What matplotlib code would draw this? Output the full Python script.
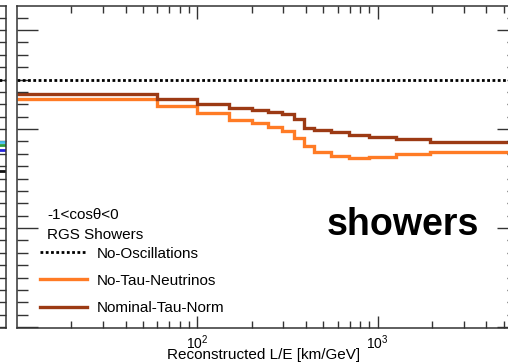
import matplotlib
matplotlib.use('Agg')
import matplotlib.pyplot as plt
from matplotlib.ticker import FixedLocator, NullFormatter, MultipleLocator, FixedFormatter

plt.rcParams['font.family'] = ['Liberation Sans', 'DejaVu Sans']
plt.rcParams['mathtext.default'] = 'regular'

# ---- data ----
bin_edges = [10, 60, 100, 150, 200, 245, 295, 345, 390, 445, 550, 690, 890, 1260, 1960, 6000]
no_tau_neutrinos = [0.961, 0.9465, 0.933, 0.919, 0.912, 0.904, 0.896, 0.882, 0.866,
                    0.8535, 0.8455, 0.8405, 0.8435, 0.8495, 0.854]
nominal_tau_norm = [0.9715, 0.960, 0.951, 0.943, 0.9385, 0.935, 0.930, 0.920, 0.903,
                    0.8985, 0.893, 0.888, 0.883, 0.880, 0.8735]
no_oscillations = 1.0
series_labels = ['No-Oscillations', 'No-Tau-Neutrinos', 'Nominal-Tau-Norm']
header_lines = ['-1<cos\u03b8<0', 'RGS Showers']
x_major_ticks = [100, 1000]
x_major_labels = ['$10^{2}$', '$10^{3}$']
x_minor_ticks = [20, 30, 40, 50, 60, 70, 80, 90, 200, 300, 400, 500, 600, 700, 800, 900,
                 2000, 3000, 4000, 5000]
y_major_ticks = [0.5, 0.7, 0.9, 1.1]
# remnant of neighbouring panel (left edge)
left_panel_levels = [0.8747, 0.8667, 0.8576, 0.815]
left_panel_colors = ['#45BFF0', '#2E9E3E', '#2222DD', '#111111']

ORANGE = '#FF7B25'
DARK = '#9C3A14'
SPINE = '#333333'

fig = plt.figure(figsize=(5.08, 3.63), dpi=100)
W, H = 508, 363
bottom = 1 - 328 / H
height = (328 - 6) / H
ax = fig.add_axes([17 / W, bottom, (518 - 17) / W, height])

ax.set_xscale('log')
ax.set_xlim(10, 6000)
ax.set_ylim(0.498, 1.1485)

ax.axhline(no_oscillations, color='black', lw=2.0, ls=(0, (1, 0.9)),
           label=series_labels[0])
ax.stairs(no_tau_neutrinos, bin_edges, baseline=None, color=ORANGE, lw=2.4,
          label=series_labels[1])
ax.stairs(nominal_tau_norm, bin_edges, baseline=None, color=DARK, lw=2.4,
          label=series_labels[2])

ax.xaxis.set_major_locator(FixedLocator(x_major_ticks))
ax.xaxis.set_major_formatter(FixedFormatter(x_major_labels))
ax.xaxis.set_minor_locator(FixedLocator(x_minor_ticks))
ax.xaxis.set_minor_formatter(NullFormatter())
ax.yaxis.set_major_locator(FixedLocator(y_major_ticks))
ax.yaxis.set_minor_locator(MultipleLocator(0.025))

ax.tick_params(axis='x', which='both', direction='in', top=True, bottom=True,
               labelsize=10, pad=4, color=SPINE)
ax.tick_params(axis='x', which='major', length=9, width=1)
ax.tick_params(axis='x', which='minor', length=5, width=1)
ax.tick_params(axis='y', which='both', direction='in', left=True, right=True,
               labelleft=False, color=SPINE)
ax.tick_params(axis='y', which='major', length=15, width=1)
ax.tick_params(axis='y', which='minor', length=8, width=1)
for s in ax.spines.values():
    s.set_color(SPINE)
    s.set_linewidth(1.1)

# header text
fig.text(47 / W, 1 - 219 / H, header_lines[0], fontsize=11, va='baseline')
fig.text(47 / W, 1 - 239 / H, header_lines[1], fontsize=11, va='baseline')

ax.legend(loc='upper left', bbox_to_anchor=(40 / W, 1 - 246.5 / H),
          bbox_transform=fig.transFigure, frameon=False, fontsize=11,
          handlelength=3.08, handletextpad=0.65, labelspacing=0.87,
          borderpad=0, borderaxespad=0)

fig.text(327 / W, 1 - 235 / H, 'showers', fontsize=27, fontweight='bold',
         va='baseline')
fig.text(264 / W, 1 - 359 / H, 'Reconstructed L/E [km/GeV]', ha='center',
         va='baseline', fontsize=11)

# neighbouring panel remnant
ax0 = fig.add_axes([-0.3, bottom, 0.3 + 6 / W, height])
ax0.set_xlim(0, 1)
ax0.set_ylim(0.498, 1.1485)
ax0.axhline(no_oscillations, color='black', lw=2.0, ls=(0, (1, 0.9)))
for lvl, col in zip(left_panel_levels, left_panel_colors):
    ax0.axhline(lvl, color=col, lw=2.0)
ax0.set_xticks([])
ax0.yaxis.set_major_locator(FixedLocator(y_major_ticks))
ax0.yaxis.set_minor_locator(MultipleLocator(0.025))
ax0.tick_params(axis='y', which='both', direction='in', left=False, right=True,
                labelleft=False, color=SPINE)
ax0.tick_params(axis='y', which='major', length=15, width=1)
ax0.tick_params(axis='y', which='minor', length=6, width=1)
for s in ax0.spines.values():
    s.set_color(SPINE)
    s.set_linewidth(1.1)

fig.savefig('out.png', dpi=100)
